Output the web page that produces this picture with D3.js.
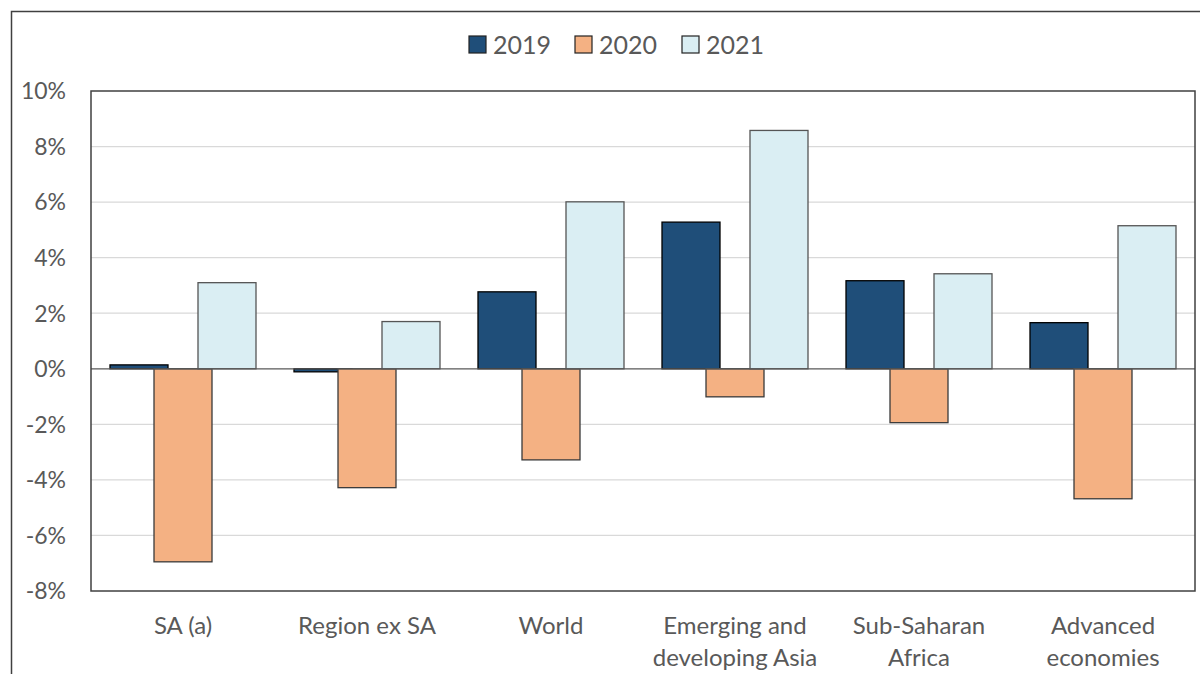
<!DOCTYPE html>
<html>
<head>
<meta charset="utf-8">
<script src="https://cdn.jsdelivr.net/npm/d3@7"></script>
<style>
  body { margin: 0; background: #fff; }
  text { font-family: Lato, "Open Sans", sans-serif; fill: #595959; }
</style>
</head>
<body>
<svg id="chart" width="1200" height="674"></svg>
<script>
const categories = [
    ["SA (a)"],
    ["Region ex SA"],
    ["World"],
    ["Emerging and", "developing Asia"],
    ["Sub-Saharan", "Africa"],
    ["Advanced", "economies"]
];
const years = ["2019", "2020", "2021"];
const values2019 = [0.14, -0.11, 2.77, 5.28, 3.17, 1.66];
const values2020 = [-6.95, -4.28, -3.28, -1.01, -1.94, -4.68];
const values2021 = [3.10, 1.70, 6.01, 8.58, 3.42, 5.15];
const yTicks = [-8, -6, -4, -2, 0, 2, 4, 6, 8, 10];

const colors = { "2019": "#1f4e79", "2020": "#f4b183", "2021": "#daeef3" };
const series = [values2019, values2020, values2021];

const svg = d3.select("#chart");
const plot = { left: 91, top: 91, right: 1195, bottom: 591 };

// outer frame (right/bottom edge sits off-canvas)
svg.append("path")
    .attr("d", "M11.5,674 V11.5 H1210")
    .attr("fill", "none")
    .attr("stroke", "#404040")
    .attr("stroke-width", 1.5);

const x = d3.scaleBand()
    .domain(d3.range(categories.length))
    .range([plot.left, plot.right])
    .paddingInner(0)
    .paddingOuter(0);

const y = d3.scaleLinear()
    .domain([-8, 10])
    .range([plot.bottom, plot.top]);

// gridlines
svg.append("g")
    .selectAll("line")
    .data(yTicks.filter(t => t !== -8 && t !== 10 && t !== 0))
    .join("line")
    .attr("x1", plot.left).attr("x2", plot.right)
    .attr("y1", d => y(d)).attr("y2", d => y(d))
    .attr("stroke", "#d9d9d9")
    .attr("stroke-width", 1.3);

// y tick labels
svg.append("g")
    .selectAll("text")
    .data(yTicks)
    .join("text")
    .attr("x", 66)
    .attr("y", d => y(d))
    .attr("dy", "0.36em")
    .attr("text-anchor", "end")
    .attr("font-size", 23)
    .text(d => d + "%");

// bars: 58px wide, 44px step (overlapping series)
const barW = 58, step = 44;
const groupW = barW + step * (years.length - 1);

years.forEach((yr, si) => {
    svg.append("g")
        .selectAll("rect")
        .data(series[si])
        .join("rect")
        .attr("x", (d, i) => x(i) + x.bandwidth() / 2 - groupW / 2 + si * step)
        .attr("y", d => y(Math.max(0, d)))
        .attr("width", barW)
        .attr("height", d => Math.abs(y(d) - y(0)))
        .attr("fill", colors[yr])
        .attr("stroke", si === 0 ? "#000" : (si === 1 ? "#3a3a3a" : "#555"))
        .attr("stroke-width", 1.3);
});

// zero line
svg.append("line")
    .attr("x1", plot.left).attr("x2", plot.right)
    .attr("y1", y(0)).attr("y2", y(0))
    .attr("stroke", "#595959")
    .attr("stroke-width", 1.3);

// plot area border
svg.append("rect")
    .attr("x", plot.left).attr("y", plot.top)
    .attr("width", plot.right - plot.left)
    .attr("height", plot.bottom - plot.top)
    .attr("fill", "none")
    .attr("stroke", "#404040")
    .attr("stroke-width", 1.5);

// category labels
const cat = svg.append("g")
    .selectAll("text")
    .data(categories)
    .join("text")
    .attr("x", (d, i) => x(i) + x.bandwidth() / 2)
    .attr("y", 634)
    .attr("text-anchor", "middle")
    .attr("font-size", 24);
cat.selectAll("tspan")
    .data(d => d)
    .join("tspan")
    .attr("x", function () { return this.parentNode.getAttribute("x"); })
    .attr("dy", (d, i) => i === 0 ? 0 : 32)
    .text(d => d);

// legend
const legendX = [469, 575, 682];
const legend = svg.append("g")
    .selectAll("g")
    .data(years)
    .join("g")
    .attr("transform", (d, i) => "translate(" + legendX[i] + ",36)");
legend.append("rect")
    .attr("width", 17).attr("height", 17)
    .attr("fill", d => colors[d])
    .attr("stroke", "#222")
    .attr("stroke-width", 1.2);
legend.append("text")
    .attr("x", 24)
    .attr("y", 8.5)
    .attr("dy", "0.36em")
    .attr("font-size", 25)
    .text(d => d);
</script>
</body>
</html>
